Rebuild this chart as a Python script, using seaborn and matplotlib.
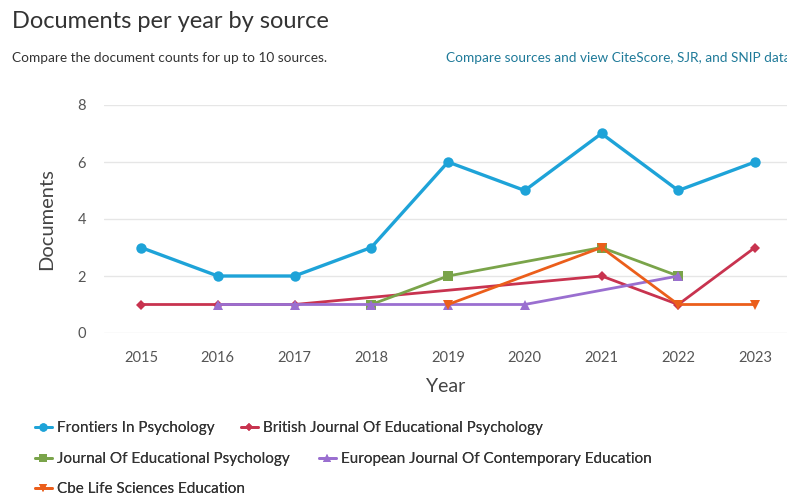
import matplotlib
matplotlib.use("Agg")
import matplotlib.pyplot as plt
import seaborn as sns
import pandas as pd
from matplotlib.lines import Line2D

sources = [
    "Frontiers In Psychology",
    "British Journal Of Educational Psychology",
    "Journal Of Educational Psychology",
    "European Journal Of Contemporary Education",
    "Cbe Life Sciences Education",
]
frontiers_years = [2015, 2016, 2017, 2018, 2019, 2020, 2021, 2022, 2023]
frontiers_docs = [3, 2, 2, 3, 6, 5, 7, 5, 6]
british_years = [2015, 2016, 2017, 2021, 2022, 2023]
british_docs = [1, 1, 1, 2, 1, 3]
jep_years = [2018, 2019, 2021, 2022]
jep_docs = [1, 2, 3, 2]
european_years = [2016, 2017, 2018, 2019, 2020, 2022]
european_docs = [1, 1, 1, 1, 1, 2]
cbe_years = [2019, 2021, 2022, 2023]
cbe_docs = [1, 3, 1, 1]
year_ticks = list(range(2015, 2024))
y_ticks = [0, 2, 4, 6, 8]

colors = ["#1ea3d8", "#c8334f", "#7aa44a", "#9a6fd0", "#eb5e1b"]
markers = ["o", "D", "s", "^", "v"]
msizes = [7.5, 5.5, 7, 7, 7]

rows = []
for s, ys, ds in zip(sources,
                     [frontiers_years, british_years, jep_years, european_years, cbe_years],
                     [frontiers_docs, british_docs, jep_docs, european_docs, cbe_docs]):
    for y, d in zip(ys, ds):
        rows.append({"Source": s, "Year": y, "Documents": d})
df = pd.DataFrame(rows)

sns.set_theme(style="white")
plt.rcParams["font.family"] = ["Lato", "DejaVu Sans"]

fig = plt.figure(figsize=(7.87, 5.0), dpi=100)
ax = fig.add_axes([104 / 787, 1 - 333 / 500, 1 - 104 / 787, (333 - 105) / 500])

for i, s in enumerate(sources):
    sub = df[df["Source"] == s]
    sns.lineplot(data=sub, x="Year", y="Documents", ax=ax, color=colors[i],
                 marker=markers[i], markersize=msizes[i], markeredgewidth=0,
                 linewidth=2.4 if i == 0 else 2.0, clip_on=False, zorder=3 + i,
                 legend=False)

ax.set_xlim(2015 - 37 / 76.75, 2023 + 32 / 76.75)
ax.set_ylim(0, 8)
ax.set_xticks(year_ticks)
ax.set_xticklabels([str(y) for y in year_ticks])
ax.set_yticks(y_ticks)
ax.grid(axis="y", color="#e6e6e6", linewidth=1)
ax.grid(axis="x", visible=False)
for sp in ax.spines.values():
    sp.set_visible(False)
ax.tick_params(axis="both", length=0, labelsize=10.5, colors="#555555")
ax.tick_params(axis="x", pad=13)
ax.tick_params(axis="y", pad=13)
ax.set_xlabel("Year", fontsize=14, color="#444444", labelpad=9)
ax.set_ylabel("Documents", fontsize=14.5, color="#444444", labelpad=16)

fig.text(12 / 787, 1 - 21 / 500, "Documents per year by source", fontsize=17,
         color="#333333", va="center", ha="left")
fig.text(12 / 787, 1 - 58 / 500, "Compare the document counts for up to 10 sources.",
         fontsize=9.8, color="#333333", va="center", ha="left")
fig.text(446 / 787, 1 - 58 / 500, "Compare sources and view CiteScore, SJR, and SNIP data",
         fontsize=9.8, color="#1f7a99", va="center", ha="left")

legend_pos = [(35, 428), (241, 428), (35, 459), (319, 459), (35, 489)]
for i, s in enumerate(sources):
    h = Line2D([0], [0], color=colors[i], marker=markers[i], markersize=msizes[i] - 1.5,
               markeredgewidth=0, linewidth=2)
    lg = fig.legend(handles=[h], labels=[s], loc="center left",
                    bbox_to_anchor=(legend_pos[i][0] / 787, 1 - legend_pos[i][1] / 500),
                    frameon=False, fontsize=11, handlelength=1.1, handletextpad=0.35,
                    borderaxespad=0, borderpad=0)
    for t in lg.get_texts():
        t.set_color("#333333")
    fig.add_artist(lg)

fig.savefig("out.png", dpi=100)
